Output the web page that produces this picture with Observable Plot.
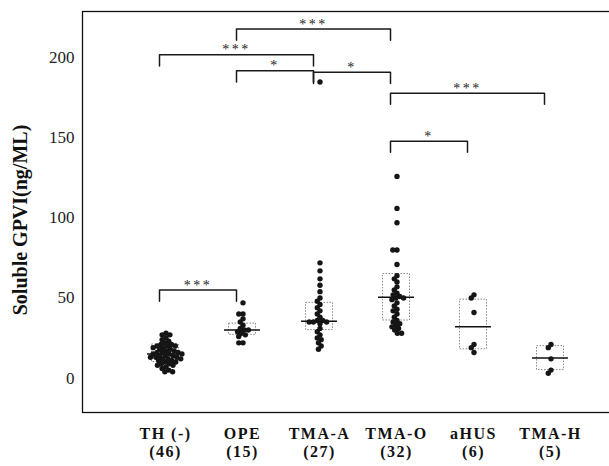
<!DOCTYPE html>
<html><head><meta charset="utf-8">
<script src="https://cdn.jsdelivr.net/npm/d3@7"></script>
<script src="https://cdn.jsdelivr.net/npm/@observablehq/plot@0.6"></script>
<style>
html,body{margin:0;padding:0;background:#fff;}
#chart{position:relative;width:609px;height:466px;overflow:hidden;background:#fff;}
#chart svg{position:absolute;left:0;top:0;}
#chart svg text{font-family:"Liberation Serif","Times New Roman",serif;}
</style></head><body><div id="chart"></div>
<script>
const categories = ["TH (-)", "OPE", "TMA-A", "TMA-O", "aHUS", "TMA-H"];
const counts = ["(46)", "(15)", "(27)", "(32)", "(6)", "(5)"];
const yTicks = [0, 50, 100, 150, 200];
const yLabel = "Soluble GPVI(ng/ML)";

const thValues = [28, 27, 27, 25, 24, 23, 22, 21, 21, 20, 20, 20, 19, 19, 18, 18, 17, 17, 16, 16, 16, 15, 15, 15, 14, 14, 14, 13, 13, 13, 12, 12, 12, 11, 11, 10, 10, 9, 9, 8, 8, 7, 6, 5, 4, 4];
const opeValues = [47, 40, 40, 37, 35, 33, 31, 30, 30, 29, 28, 27, 26, 22, 22];
const tmaAValues = [185, 72, 67, 62, 58, 54, 50, 48, 46, 44, 42, 40, 38, 36, 36, 35, 35, 35, 34, 31, 29, 27, 25, 24, 22, 20, 18];
const tmaOValues = [126, 106, 97, 80, 80, 71, 64, 62, 60, 57, 55, 53, 52, 51, 50, 50, 49, 47, 45, 43, 42, 40, 38, 36, 35, 34, 33, 32, 31, 30, 28, 28];
const aHUSValues = [52, 50, 41, 21, 19, 16];
const tmaHValues = [21, 19, 12, 5, 3];

const medians = [15, 30, 35.5, 50.5, 32, 12.5];
const q1 = [10, 27, 30, 36, 18, 5];
const q3 = [21, 34, 47, 65, 49, 20];

const bracketFrom = [0, 0, 1, 1, 2, 3, 3];
const bracketTo = [1, 2, 3, 2, 3, 5, 4];
const bracketLevel = [55, 202, 218, 192, 191, 178, 148];
const bracketLabel = ["***", "***", "***", "*", "*", "***", "*"];
const bracketDrop = 7;

const W = 609, H = 466;
const yDomain = [-21.5, 229];
const groups = [thValues, opeValues, tmaAValues, tmaOValues, aHUSValues, tmaHValues];
const points = groups.flatMap((vals, i) => vals.map(v => ({group: categories[i], value: v})));
const summary = categories.map((c, i) => ({i, median: medians[i], q1: q1[i], q3: q3[i]}));
const bracketPath = bracketFrom.flatMap((f, k) => {
  const t = bracketTo[k], y = bracketLevel[k], d = y - bracketDrop;
  return [{k, x: f, y: d}, {k, x: f, y}, {k, x: t, y}, {k, x: t, y: d}];
});
const bracketText = bracketFrom.map((f, k) => ({x: (f + bracketTo[k]) / 2, y: bracketLevel[k], label: bracketLabel[k]}));

const serif = "Liberation Serif";

const base = Plot.plot({
  width: W, height: H, marginTop: 11, marginBottom: 54, marginLeft: 82, marginRight: -2,
  style: {fontFamily: serif, fontSize: "17px", color: "#222", background: "transparent"},
  x: {type: "linear", domain: [0, 5], insetLeft: 83, insetRight: 61, axis: null},
  y: {domain: yDomain, ticks: yTicks, tickSize: 0, tickPadding: 8, label: null, tickFormat: d => String(d)},
  marks: [
    Plot.frame({stroke: "#111", strokeWidth: 1.3}),
    Plot.rect(summary, {x1: "i", x2: "i", y1: "q1", y2: "q3", insetLeft: -13.5, insetRight: -13.5, fill: "none", stroke: "#8a8a8a", strokeDasharray: "1.5,1.5"}),
    Plot.ruleY(summary, {y: "median", x1: "i", x2: "i", insetLeft: -18, insetRight: -18, stroke: "#111", strokeWidth: 1.5}),
    Plot.line(bracketPath, {x: "x", y: "y", z: "k", stroke: "#1a1a1a", strokeWidth: 1.5, dx: -6}),
    Plot.text(bracketText, {x: "x", y: "y", text: "label", dx: -6, dy: -5, fontSize: 14, fill: "#222"}),
    Plot.text(categories, {x: (d, i) => i, frameAnchor: "bottom", dy: 26, fontWeight: "bold", fontSize: 16, fill: "#111"}),
    Plot.text(counts, {x: (d, i) => i, frameAnchor: "bottom", dy: 44, fontWeight: "bold", fontSize: 16, fill: "#111"}),
    Plot.text([yLabel], {frameAnchor: "left", textAnchor: "middle", rotate: -90, dx: -62, dy: 8, fontWeight: "bold", fontSize: 20, fill: "#111"})
  ]
});

const overlay = Plot.plot({
  width: W, height: H, marginTop: 11, marginBottom: 54, marginLeft: 126.5, marginRight: 20.5,
  style: {background: "transparent"},
  fx: {domain: categories, padding: 0, axis: null, label: null},
  y: {domain: yDomain, axis: null},
  marks: [
    Plot.dot(points, Plot.dodgeX({anchor: "middle", padding: -1.2}, {fx: "group", y: "value", r: 2.7, fill: "#151515"}))
  ]
});

const chart = document.getElementById("chart");
chart.appendChild(base);
chart.appendChild(overlay);

const textGroups = base.querySelectorAll('g[aria-label="text"]');
textGroups.forEach((g, idx) => {
  if (idx === 0) g.setAttribute("letter-spacing", "2.5");
  if (idx === 1 || idx === 2) g.setAttribute("letter-spacing", "1.5");
});
</script></body></html>
